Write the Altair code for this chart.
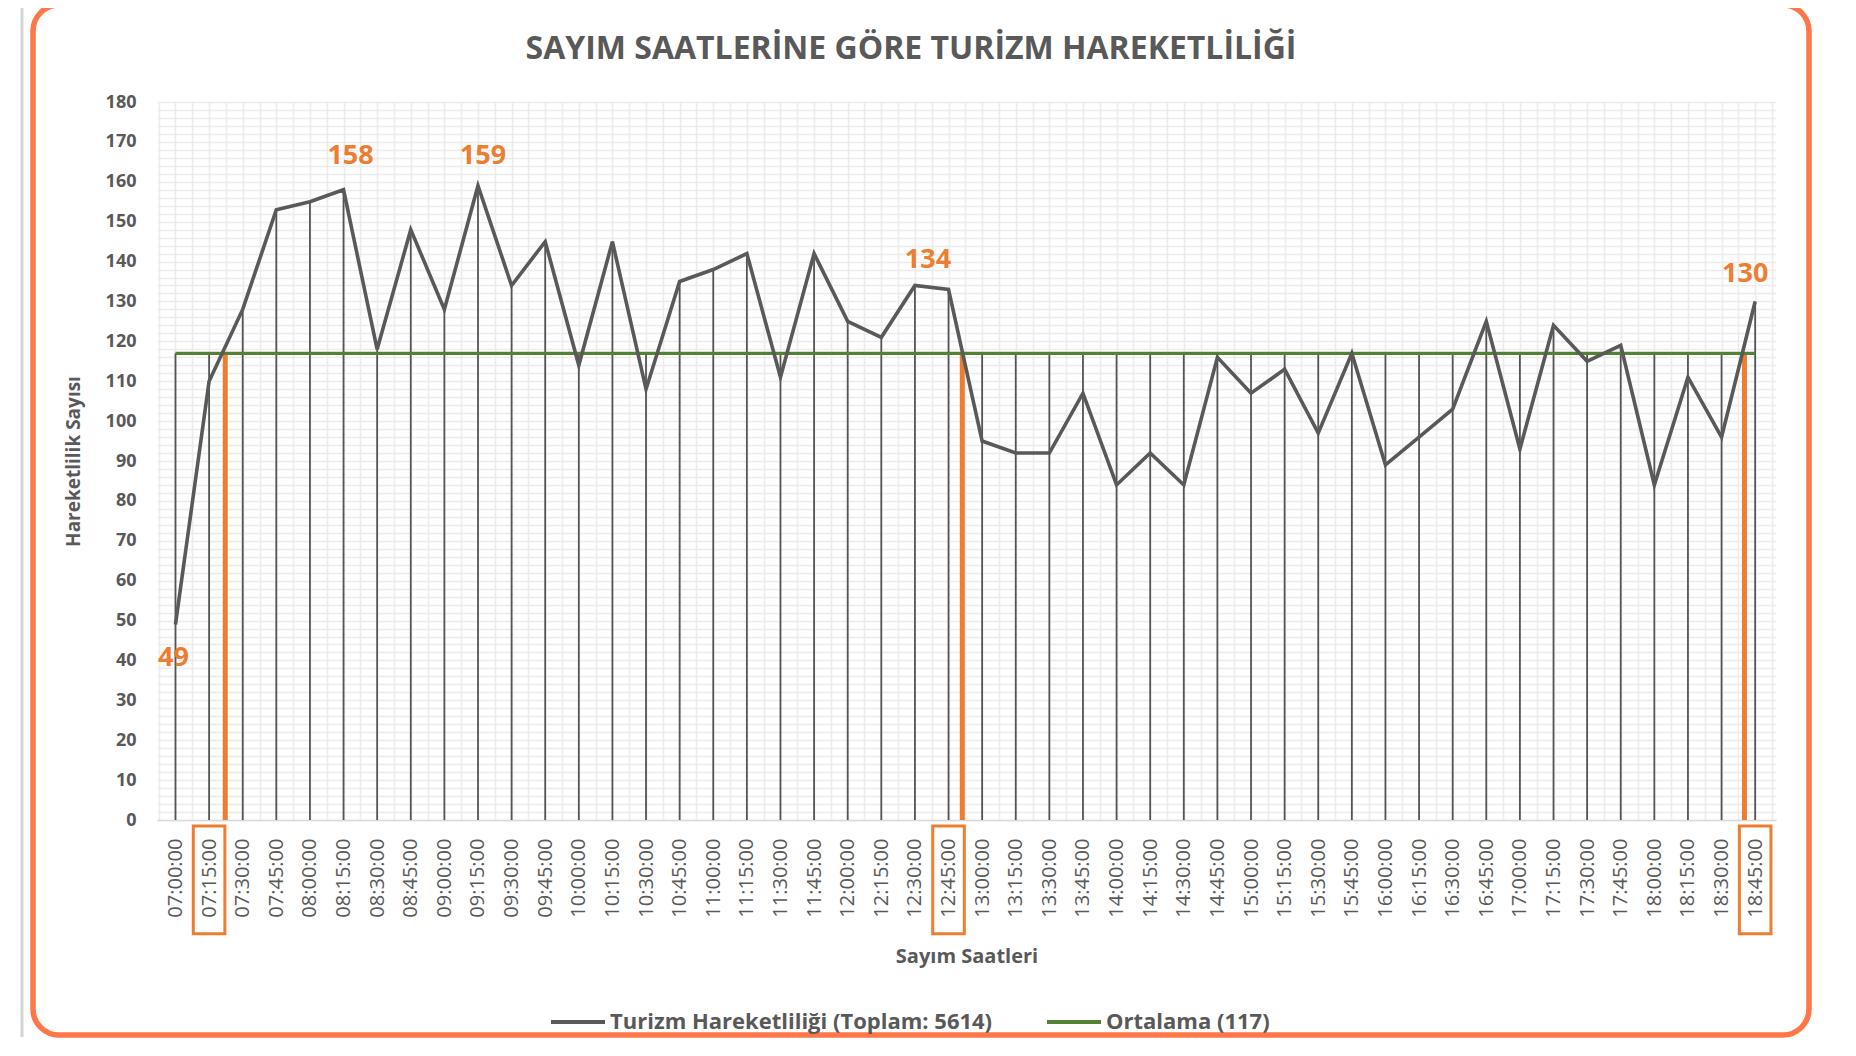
import json
import altair as alt
import pandas as pd

# ---------------- data ----------------
times = [
    "07:00:00", "07:15:00", "07:30:00", "07:45:00", "08:00:00", "08:15:00",
    "08:30:00", "08:45:00", "09:00:00", "09:15:00", "09:30:00", "09:45:00",
    "10:00:00", "10:15:00", "10:30:00", "10:45:00", "11:00:00", "11:15:00",
    "11:30:00", "11:45:00", "12:00:00", "12:15:00", "12:30:00", "12:45:00",
    "13:00:00", "13:15:00", "13:30:00", "13:45:00", "14:00:00", "14:15:00",
    "14:30:00", "14:45:00", "15:00:00", "15:15:00", "15:30:00", "15:45:00",
    "16:00:00", "16:15:00", "16:30:00", "16:45:00", "17:00:00", "17:15:00",
    "17:30:00", "17:45:00", "18:00:00", "18:15:00", "18:30:00", "18:45:00",
]
values = [
    49, 110, 128, 153, 155, 158, 118, 148, 128, 159, 134, 145,
    114, 145, 108, 135, 138, 142, 111, 142, 125, 121, 134, 133,
    95, 92, 92, 107, 84, 92, 84, 116, 107, 113, 97, 117,
    89, 96, 103, 125, 93, 124, 115, 119, 84, 111, 96, 130,
]
average = 117
total = 5614

label_idx = [0, 5, 9, 22, 47]          # annotated points
boxed_idx = [1, 23, 47]                # tick labels framed in orange
cross_x = [1.48, 23.41, 46.68]         # orange markers where the line meets the mean

title_text = "SAYIM SAATLERİNE GÖRE TURİZM HAREKETLİLİĞİ"
x_title = "Sayım Saatleri"
y_title = "Hareketlilik Sayısı"
s_main = f"Turizm Hareketliliği (Toplam: {total})"
s_avg = f"Ortalama ({average})"

# ---------------- styles ----------------
FONT = "Open Sans"
TXT = "#595959"
GRAY = "#595959"
GREEN = "#548235"
ORANGE = "#ED7D31"
FRAME = "#FF7648"
GRID = "#ececec"

label_dx = [-2, 7, 5, 13, -10]
label_dy = [33, -34, -30, -25, -27]

W, H = 1619, 718

# ---------------- tables ----------------
n = len(times)
df = pd.DataFrame({"i": list(range(n)), "time": times, "v": values})
df["top"] = df["v"].clip(lower=average)
df["zero"] = 0
df["series"] = s_main

avg_df = pd.DataFrame({"i": [0, n - 1], "v": [average, average], "series": [s_avg, s_avg]})
cross_df = pd.DataFrame({"x": cross_x, "v": [average] * len(cross_x), "zero": [0] * len(cross_x)})
box_df = pd.DataFrame({"x": [b - 0.47 for b in boxed_idx], "x2": [b + 0.47 for b in boxed_idx],
                       "y": [-1.5] * len(boxed_idx), "y2": [-28.5] * len(boxed_idx)})

x_scale = alt.Scale(domain=[-0.55, 47.62], nice=False, zero=False)
y_scale = alt.Scale(domain=[0, 180], nice=False)

x_axis = alt.Axis(
    values=[k / 2 for k in range(-1, 96)],
    labelExpr="datum.value % 1 === 0 ? " + json.dumps(times) + "[datum.value] : ''",
    labelAngle=-90, labelAlign="right", labelBaseline="middle",
    labelPadding=18, labelFont=FONT, labelFontSize=20, labelColor=TXT,
    labelOverlap=False, labelBound=False, labelFlush=False,
    grid=True, gridColor=GRID, gridWidth=1.6, ticks=False,
    domain=True, domainColor="#d9d9d9", domainWidth=1.5,
    title=x_title, titleFont=FONT, titleFontSize=20, titleFontWeight="bold",
    titleColor=TXT, titleY=136, titleBaseline="middle",
)
y_axis = alt.Axis(
    values=list(range(0, 181, 2)),
    labelExpr="datum.value % 10 === 0 ? datum.label : ''",
    labelPadding=21, labelFont=FONT, labelFontSize=18, labelFontWeight="bold",
    labelColor=TXT, labelOverlap=False, labelFlush=False,
    grid=True, gridColor=GRID, gridWidth=1.6, ticks=False, domain=False,
    title=y_title, titleFont=FONT, titleFontSize=19, titleFontWeight="bold",
    titleColor=TXT, titleX=-84, titleBaseline="middle",
)


def X(field):
    return alt.X(field, type="quantitative", scale=x_scale, axis=x_axis)


def Y(field):
    return alt.Y(field, type="quantitative", scale=y_scale, axis=y_axis)


# legend symbol: a long horizontal stroke (unit path scaled by sqrt(size)/2)
color = alt.Color(
    "series:N",
    scale=alt.Scale(domain=[s_main, s_avg], range=[GRAY, GREEN]),
    legend=alt.Legend(
        orient="none", legendX=410, legendY=909, direction="horizontal", title=None,
        symbolType="M-3,0H3", symbolSize=324, symbolStrokeWidth=4,
        labelFont=FONT, labelFontSize=22, labelFontWeight="bold", labelColor=TXT,
        labelLimit=0, labelOffset=21, columnPadding=46,
    ),
)

drops = alt.Chart(df).mark_rule(color="#555555", strokeWidth=1.8).encode(
    x=X("i"), y=Y("top"), y2="zero:Q")

crosses = alt.Chart(cross_df).mark_rule(color=ORANGE, strokeWidth=5).encode(
    x=X("x"), y=Y("v"), y2="zero:Q")

avg_line = alt.Chart(avg_df).mark_line(strokeWidth=3.2).encode(
    x=X("i"), y=Y("v"), color=color)

main_line = alt.Chart(df).mark_line(strokeWidth=3.6).encode(
    x=X("i"), y=Y("v"), color=color)

boxes = alt.Chart(box_df).mark_rect(fillOpacity=0, stroke=ORANGE, strokeWidth=3).encode(
    x=X("x"), x2="x2:Q", y=Y("y"), y2="y2:Q")

label_layers = []
for idx, dx, dy in zip(label_idx, label_dx, label_dy):
    sub = df[df["i"] == idx]
    label_layers.append(
        alt.Chart(sub).mark_text(
            font=FONT, fontSize=27, fontWeight="bold", color=ORANGE,
            dx=dx, dy=dy, baseline="middle", align="center",
        ).encode(x=X("i"), y=Y("v"), text="v:Q")
    )

title_mark = alt.Chart(pd.DataFrame({"t": [title_text]})).mark_text(
    font=FONT, fontSize=32, fontWeight="bold", color=TXT, baseline="middle", align="center"
).encode(x=alt.value(754), y=alt.value(-53), text="t:N")

frame = alt.Chart(pd.DataFrame({"k": [0]})).mark_rect(
    fillOpacity=0, stroke=FRAME, strokeWidth=5.5, cornerRadius=26
).encode(x=alt.value(-124), x2=alt.value(1652), y=alt.value(-97), y2=alt.value(933))

side = alt.Chart(pd.DataFrame({"k": [0]})).mark_rule(color="#d4d4d4", strokeWidth=3).encode(
    x=alt.value(-135), y=alt.value(-102), y2=alt.value(935))

chart = alt.layer(
    drops, crosses, avg_line, main_line, boxes, *label_layers, title_mark, side, frame
).properties(
    width=W, height=H,
    autosize=alt.AutoSizeParams(type="none"),
    padding={"left": 149, "top": 94, "right": 62, "bottom": 218},
    background="white",
).configure_view(stroke=None)

chart.save("out.html", embed_options={"renderer": "svg", "actions": False})
